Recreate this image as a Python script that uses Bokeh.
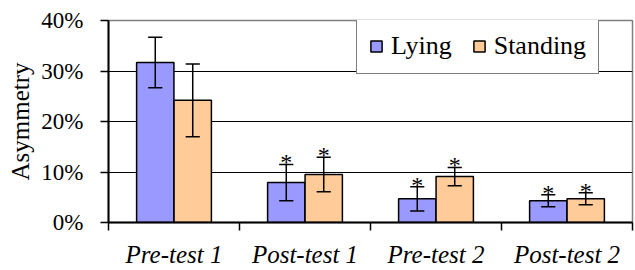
from bokeh.plotting import figure
from bokeh.models import (Range1d, FixedTicker, NumeralTickFormatter,
                          ColumnDataSource, Label)
from bokeh.embed import file_html
from bokeh.resources import INLINE

categories = ["Pre-test 1", "Post-test 1", "Pre-test 2", "Post-test 2"]
lying = [0.317, 0.079, 0.047, 0.043]
lying_err = [0.050, 0.036, 0.024, 0.012]
standing = [0.242, 0.095, 0.091, 0.047]
standing_err = [0.072, 0.034, 0.018, 0.012]
lying_sig = [False, True, True, True]
standing_sig = [False, True, True, True]
y_ticks = [0, 0.1, 0.2, 0.3, 0.4]

FONT = "Liberation Serif"
BAR_W = 0.285
OFF = 0.143
CAP = 0.054

centers = [i + 0.5 for i in range(len(categories))]
boundaries = [i for i in range(len(categories) + 1)]

p = figure(width=635, height=270, x_range=Range1d(0, len(categories)),
           y_range=Range1d(0, 0.4), output_backend="svg", toolbar_location=None,
           min_border_left=108, min_border_right=3, min_border_top=20,
           min_border_bottom=48)
p.outline_line_color = "#808080"
p.outline_line_width = 1.5

p.xgrid.visible = False
p.ygrid.ticker = FixedTicker(ticks=y_ticks[1:-1])
p.ygrid.grid_line_color = "black"
p.ygrid.grid_line_width = 1.2


def make_source(offset, vals, errs):
    xs = [c + offset for c in centers]
    return ColumnDataSource(dict(
        x=xs, top=vals,
        upper=[v + e for v, e in zip(vals, errs)],
        lower=[v - e for v, e in zip(vals, errs)],
        cap_l=[x - CAP for x in xs], cap_r=[x + CAP for x in xs]))


src_l = make_source(-OFF, lying, lying_err)
src_s = make_source(OFF, standing, standing_err)

p.vbar(x="x", top="top", width=BAR_W, source=src_l, fill_color="#9999FF",
       line_color="black", line_width=1.5, legend_label="Lying")
p.vbar(x="x", top="top", width=BAR_W, source=src_s, fill_color="#FFCC99",
       line_color="black", line_width=1.5, legend_label="Standing")

# error bars
for src in (src_l, src_s):
    p.segment(x0="x", y0="lower", x1="x", y1="upper", source=src,
              line_color="black", line_width=1.5)
    p.segment(x0="cap_l", y0="upper", x1="cap_r", y1="upper", source=src,
              line_color="black", line_width=1.5)
    p.segment(x0="cap_l", y0="lower", x1="cap_r", y1="lower", source=src,
              line_color="black", line_width=1.5)

# significance asterisks
for i, c in enumerate(centers):
    marks = []
    if lying_sig[i]:
        marks.append((c - OFF, lying[i] + lying_err[i]))
    if standing_sig[i]:
        marks.append((c + OFF, standing[i] + standing_err[i]))
    for mx, my in marks:
        p.add_layout(Label(x=mx, y=my, text="*", text_font=FONT,
                           text_font_size="24px", text_align="center",
                           text_baseline="alphabetic", y_offset=2,
                           text_color="black"))

# y axis
ya = p.yaxis[0]
ya.ticker = FixedTicker(ticks=y_ticks)
ya.formatter = NumeralTickFormatter(format="0%")
ya.major_tick_out = 8
ya.major_tick_in = 0
ya.minor_tick_out = 0
ya.minor_tick_in = 0
ya.axis_line_width = 2
ya.major_tick_line_width = 1.5
ya.major_label_text_font = FONT
ya.major_label_text_font_size = "23px"
ya.major_label_text_color = "black"
ya.major_label_standoff = 17
ya.axis_label = "Asymmetry"
ya.axis_label_text_font = FONT
ya.axis_label_text_font_size = "25px"
ya.axis_label_text_font_style = "normal"
ya.axis_label_text_color = "black"
ya.axis_label_standoff = 4

# x axis
xa = p.xaxis[0]
xa.ticker = FixedTicker(ticks=centers, minor_ticks=boundaries)
xa.major_label_overrides = {c: name for c, name in zip(centers, categories)}
xa.major_tick_out = 0
xa.major_tick_in = 0
xa.minor_tick_out = 8
xa.minor_tick_in = 0
xa.minor_tick_line_width = 1.5
xa.minor_tick_line_color = "black"
xa.axis_line_width = 2
xa.major_label_text_font = FONT
xa.major_label_text_font_size = "25px"
xa.major_label_text_font_style = "italic"
xa.major_label_text_color = "black"
xa.major_label_standoff = 10

lg = p.legend[0]
lg.orientation = "horizontal"
lg.location = (248, 148)
lg.label_text_font = FONT
lg.label_text_font_size = "26px"
lg.label_text_color = "black"
lg.glyph_width = 14
lg.glyph_height = 14
lg.label_standoff = 8
lg.spacing = 20
lg.padding = 12
lg.margin = 0
lg.border_line_color = "black"
lg.border_line_width = 1.5
lg.background_fill_color = "white"
lg.background_fill_alpha = 1.0

open("out.html", "w").write(file_html(p, INLINE))
